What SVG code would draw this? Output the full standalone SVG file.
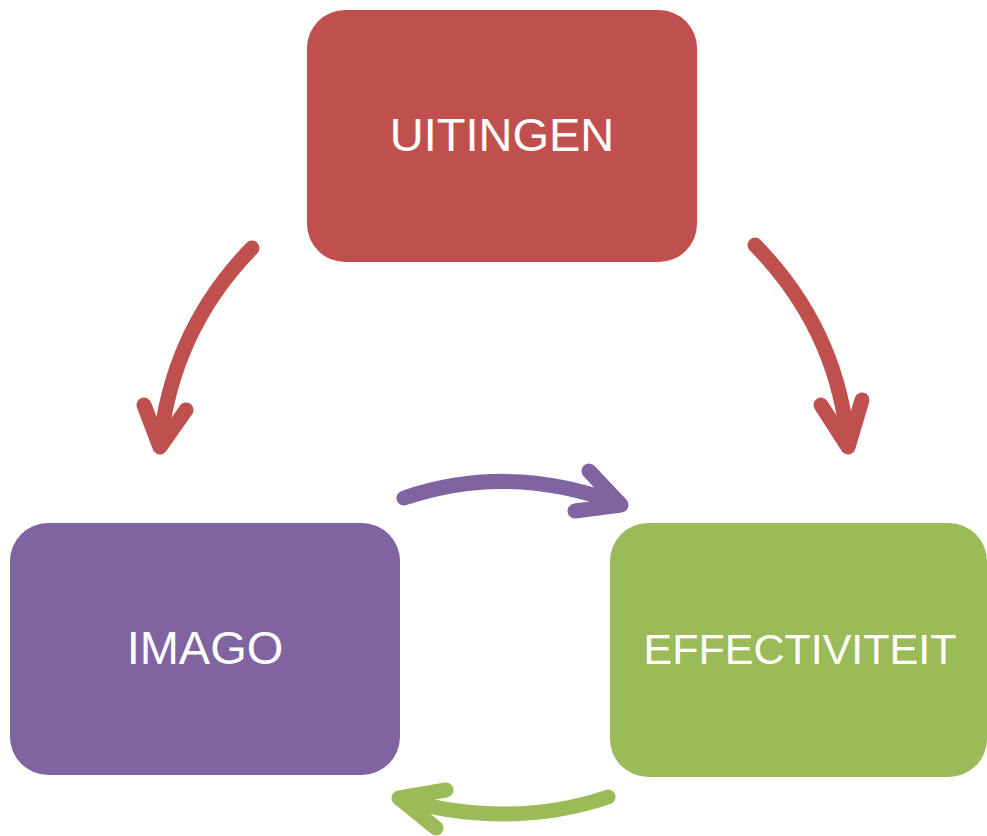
<svg xmlns="http://www.w3.org/2000/svg" width="987" height="836" viewBox="0 0 987 836">
<style>
.lbl{font-family:"Liberation Sans","Open Sans",sans-serif;font-size:47px;fill:#fff;text-anchor:middle}
.arr{fill:none;stroke-width:15;stroke-linecap:round;stroke-linejoin:round}
.red{stroke:#C0504D}.pur{stroke:#8064A2}.grn{stroke:#9BBB59}
</style>
<rect width="987" height="836" fill="#fff"/>
<g id="uitingen">
<rect x="307" y="10" width="390" height="252" rx="38" fill="#C0504D"/>
<text class="lbl" x="502" y="151">UITINGEN</text>
</g>
<g id="imago">
<rect x="10" y="523" width="390" height="252" rx="38" fill="#8064A2"/>
<text class="lbl" x="205" y="664">IMAGO</text>
</g>
<g id="effectiviteit">
<rect x="610" y="523" width="377" height="254" rx="38" fill="#9BBB59"/>
<text class="lbl" x="800" y="664" style="font-size:43px">EFFECTIVITEIT</text>
</g>
<g id="connectors">
<path class="arr red" d="M252,248 Q172,330 160,445"/>
<path class="arr red" d="M144,405 L160,447 L186,410"/>
<path class="arr red" d="M755,245 Q838,330 848,445"/>
<path class="arr red" d="M821,405 L848,447 L862,400"/>
<path class="arr pur" d="M404,498 Q510,462 620,504"/>
<path class="arr pur" d="M589,471 L621,505 L575,511"/>
<path class="arr grn" d="M608,797 Q510,830 400,799"/>
<path class="arr grn" d="M446,790 L399,798 L436,828"/>
</g>
</svg>
